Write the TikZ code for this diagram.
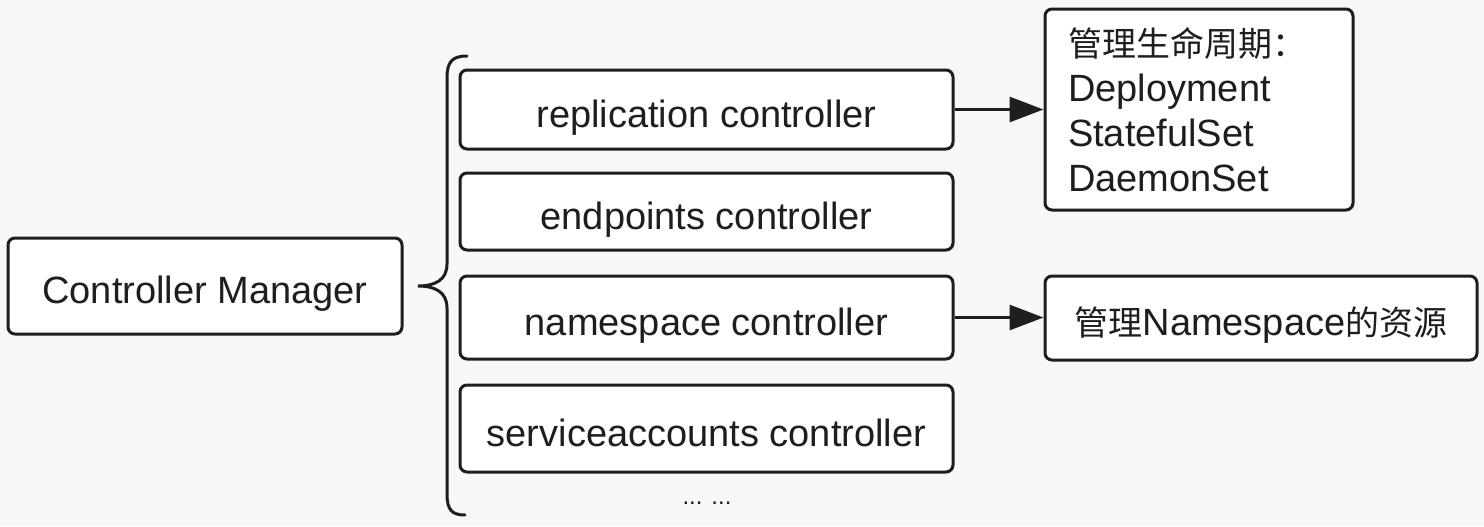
\documentclass[tikz,border=0pt]{standalone}
\usepackage{fontspec}
\setmainfont{Liberation Sans}
\newfontfamily\cjk{Noto Sans CJK SC}
\usetikzlibrary{arrows.meta}
\definecolor{bg}{HTML}{F8F8F8}
\definecolor{ink}{HTML}{1E1E1E}
\begin{document}
\begin{tikzpicture}[x=0.5pt,y=-0.5pt,
  box/.style={draw=ink, line width=1.5pt, rounded corners=3.5pt, fill=white, inner sep=0pt},
  lbl/.style={font=\fontsize{19}{22.5}\selectfont, text=ink},
  low/.style={text height=17.5pt, text depth=0pt},
  ctl/.style={box, lbl, low, minimum width=246.5pt},
  conn/.style={draw=ink, line width=1.5pt, -{Triangle[length=17pt,width=12.5pt]}}]
\fill[bg] (0,0) rectangle (1484,526);
\useasboundingbox (0,0) rectangle (1484,526);

\node[box, lbl, low, minimum width=197pt, minimum height=48pt] (cm) at (205,286) {Controller Manager};

\node[ctl, minimum height=39.5pt] (rep) at (706.5,109.5) {replication controller};
\node[ctl, minimum height=38.5pt] (ep) at (706.5,211.5) {endpoints controller};
\node[ctl, minimum height=41.5pt] (ns) at (706.5,317.5) {namespace controller};
\node[ctl, minimum height=43.5pt] (sa) at (706.5,428.5) {serviceaccounts controller};
\node[text=ink, font=\fontsize{12}{14}\selectfont] (dots) at (707,503) {... ...};

% brace
\draw[ink, line width=1.5pt, line cap=round]
  (467,56) .. controls (452,56) and (447,62) .. (447,78)
  -- (447,264) .. controls (447,280) and (435,286) .. (418,286)
  .. controls (435,286) and (447,292) .. (447,308)
  -- (447,494) .. controls (447,510) and (452,515) .. (465,515);

\node[box, lbl, minimum width=154pt, minimum height=100.5pt, text width=131pt, align=left] (life) at (1199,109.5)
  {{\cjk\fontsize{17}{22.5}\selectfont 管理生命周期：}\\Deployment\\StatefulSet\\DaemonSet};

\node[box, lbl, low, minimum width=216pt, minimum height=42pt] (res) at (1261,318)
  {{\cjk\fontsize{17}{20}\selectfont 管理}Namespace{\cjk\fontsize{17}{20}\selectfont 的资源}};

\draw[conn] (rep.east) -- (life.west);
\draw[conn] (ns.east) -- (res.west |- ns.east);
\end{tikzpicture}
\end{document}
